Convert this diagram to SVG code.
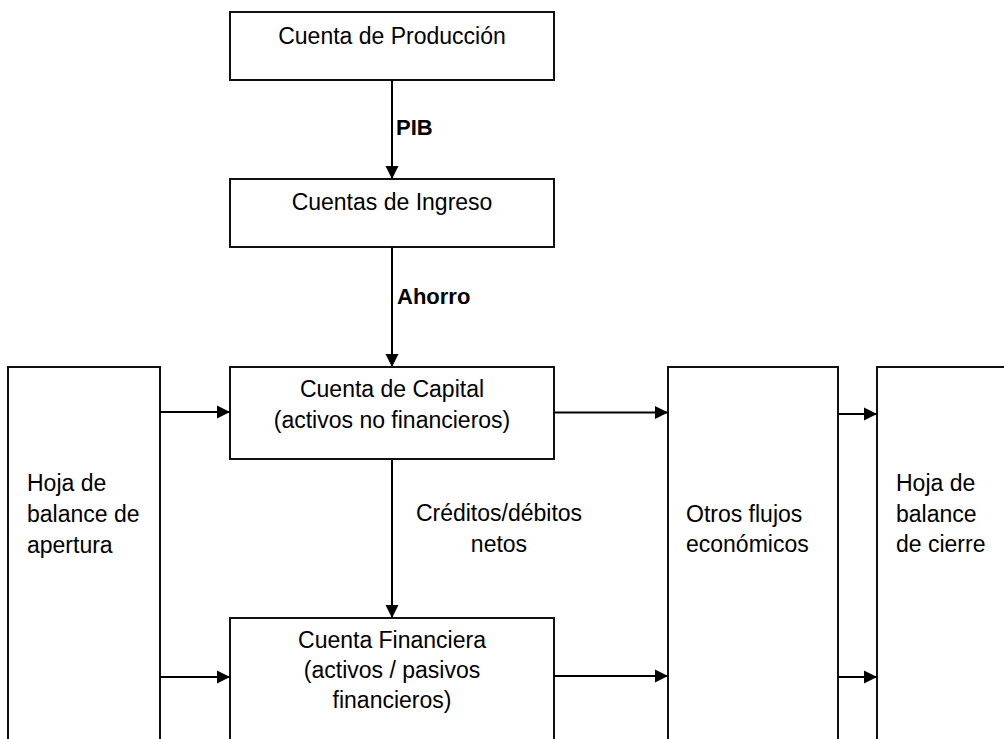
<svg xmlns="http://www.w3.org/2000/svg" width="1004" height="739" viewBox="0 0 1004 739">
<style>
.box{fill:#fff;stroke:#111;stroke-width:2}
.t{font-family:"Liberation Sans",Arial,sans-serif;font-size:23px;fill:#000}
.c{text-anchor:middle}
.b{font-weight:bold;font-size:22px}
.ln{stroke:#000;stroke-width:2;fill:none}
</style>
<defs>
<marker id="ah" markerUnits="userSpaceOnUse" markerWidth="14" markerHeight="14" viewBox="0 0 14 14" refX="13" refY="7" orient="auto">
<path d="M0,0.5 L13,7 L0,13.5 Z" fill="#000"/>
</marker>
</defs>
<rect width="1004" height="739" fill="#fff"/>
<g id="produccion">
<rect class="box" x="230" y="12" width="324" height="68"/>
<text class="t c" x="392" y="44">Cuenta de Producción</text>
</g>
<g id="ingreso">
<rect class="box" x="230" y="179" width="324" height="68"/>
<text class="t c" x="392" y="210">Cuentas de Ingreso</text>
</g>
<g id="capital">
<rect class="box" x="230" y="367" width="324" height="92"/>
<text class="t c" x="392" y="397">Cuenta de Capital</text>
<text class="t c" x="392" y="428">(activos no financieros)</text>
</g>
<g id="financiera">
<rect class="box" x="230" y="618" width="324" height="142"/>
<text class="t c" x="392" y="648">Cuenta Financiera</text>
<text class="t c" x="392" y="678">(activos / pasivos</text>
<text class="t c" x="392" y="708">financieros)</text>
</g>
<g id="apertura">
<rect class="box" x="8" y="367" width="152" height="393"/>
<text class="t" x="27" y="491">Hoja de</text>
<text class="t" x="27" y="522">balance de</text>
<text class="t" x="27" y="553">apertura</text>
</g>
<g id="otros">
<rect class="box" x="668" y="367" width="170" height="393"/>
<text class="t" x="686" y="522">Otros flujos</text>
<text class="t" x="686" y="552">económicos</text>
</g>
<g id="cierre">
<rect class="box" x="877" y="367" width="150" height="393"/>
<text class="t" x="896" y="491">Hoja de</text>
<text class="t" x="896" y="522">balance</text>
<text class="t" x="896" y="552">de cierre</text>
</g>
<g id="connectors">
<line class="ln" x1="392" y1="80" x2="392" y2="179" marker-end="url(#ah)"/>
<line class="ln" x1="392" y1="247" x2="392" y2="367" marker-end="url(#ah)"/>
<line class="ln" x1="392" y1="459" x2="392" y2="618" marker-end="url(#ah)"/>
<line class="ln" x1="160" y1="412" x2="230" y2="412" marker-end="url(#ah)"/>
<line class="ln" x1="160" y1="677" x2="230" y2="677" marker-end="url(#ah)"/>
<line class="ln" x1="554" y1="412.5" x2="668" y2="412.5" marker-end="url(#ah)"/>
<line class="ln" x1="554" y1="676" x2="668" y2="676" marker-end="url(#ah)"/>
<line class="ln" x1="838" y1="414" x2="877" y2="414" marker-end="url(#ah)"/>
<line class="ln" x1="838" y1="677" x2="877" y2="677" marker-end="url(#ah)"/>
<text class="t b" x="396" y="135">PIB</text>
<text class="t b" x="397" y="304">Ahorro</text>
<text class="t c" x="499" y="521">Créditos/débitos</text>
<text class="t c" x="499" y="552">netos</text>
</g>
</svg>
